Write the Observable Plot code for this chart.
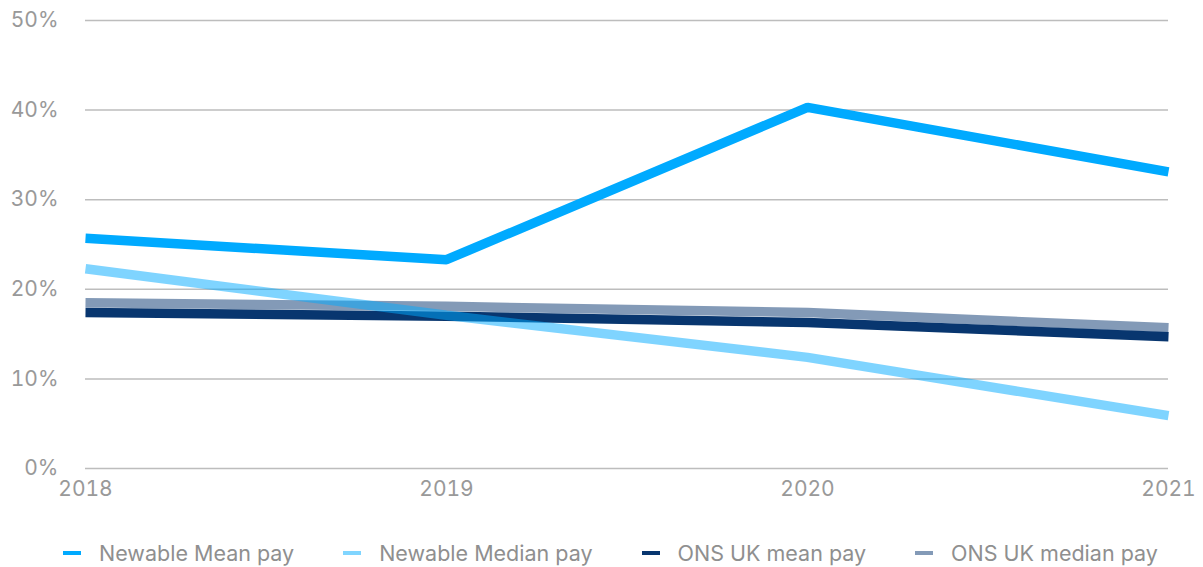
<!DOCTYPE html>
<html>
<head>
<meta charset="utf-8">
<script src="https://cdn.jsdelivr.net/npm/d3@7"></script>
<script src="https://cdn.jsdelivr.net/npm/@observablehq/plot@0.6"></script>
<style>
  html, body { margin: 0; padding: 0; background: #fff; }
  body { width: 1203px; font-family: Inter, "Noto Sans", sans-serif; }
  #legend { box-sizing: border-box; width: 1203px; display: flex; justify-content: flex-start; gap: 49px; margin-top: 20px; padding-left: 63px; font-size: 21.5px; color: #8f8f8f; white-space: nowrap; }
  .item { display: flex; align-items: center; flex: none; }
  .sw { width: 18px; height: 4px; margin-right: 18px; }
</style>
</head>
<body>
<div id="chart"></div>
<div id="legend"></div>
<script>
const years = [2018, 2019, 2020, 2021];
const seriesNames = ["Newable Mean pay", "Newable Median pay", "ONS UK mean pay", "ONS UK median pay"];
const newableMean = [25.7, 23.3, 40.3, 33.1];
const newableMedian = [22.3, 17.1, 12.4, 5.9];
const onsMean = [17.4, 17.0, 16.3, 14.7];
const onsMedian = [18.5, 18.1, 17.4, 15.7];
const yTicks = [0, 10, 20, 30, 40, 50];

const colors = {
  "Newable Mean pay": "#00aaff",
  "Newable Median pay": "#00aaff",
  "ONS UK mean pay": "#08366f",
  "ONS UK median pay": "#08366f"
};
const opac = {
  "Newable Mean pay": 1,
  "Newable Median pay": 0.5,
  "ONS UK mean pay": 1,
  "ONS UK median pay": 0.5
};
const swatch = {
  "Newable Mean pay": "#00aaff",
  "Newable Median pay": "#80d5ff",
  "ONS UK mean pay": "#08366f",
  "ONS UK median pay": "#839ab7"
};

const valuesBySeries = [newableMean, newableMedian, onsMean, onsMedian];
const rows = seriesNames.flatMap((s, i) => years.map((y, j) => ({series: s, year: y, value: valuesBySeries[i][j]})));
const drawOrder = ["Newable Mean pay", "ONS UK mean pay", "ONS UK median pay", "Newable Median pay"];

const chart = Plot.plot({
  width: 1203,
  height: 520,
  marginLeft: 85,
  marginRight: 35,
  marginTop: 20,
  marginBottom: 52,
  style: { fontFamily: "Inter, 'Noto Sans', sans-serif", fontSize: "21px", color: "#999", background: "#fff" },
  x: { domain: [2018, 2021], ticks: years, tickFormat: "d", tickSize: 0, tickPadding: 13, label: null },
  y: { domain: [0, 50], ticks: yTicks, tickFormat: d => d + "%", tickSize: 0, tickPadding: 27, label: null },
  marks: [
    Plot.ruleY(yTicks, { stroke: "#bdbdbd", strokeWidth: 1.5 }),
    ...drawOrder.map(s => Plot.line(rows.filter(r => r.series === s), {
      x: "year", y: "value",
      stroke: colors[s], strokeOpacity: opac[s],
      strokeWidth: 9.5, strokeLinecap: "butt", strokeLinejoin: "miter"
    }))
  ]
});
document.getElementById("chart").appendChild(chart);

const legend = document.getElementById("legend");
seriesNames.forEach(s => {
  const it = document.createElement("div");
  it.className = "item";
  const sw = document.createElement("span");
  sw.className = "sw";
  sw.style.background = swatch[s];
  const t = document.createElement("span");
  t.textContent = s;
  it.appendChild(sw); it.appendChild(t);
  legend.appendChild(it);
});
</script>
</body>
</html>
